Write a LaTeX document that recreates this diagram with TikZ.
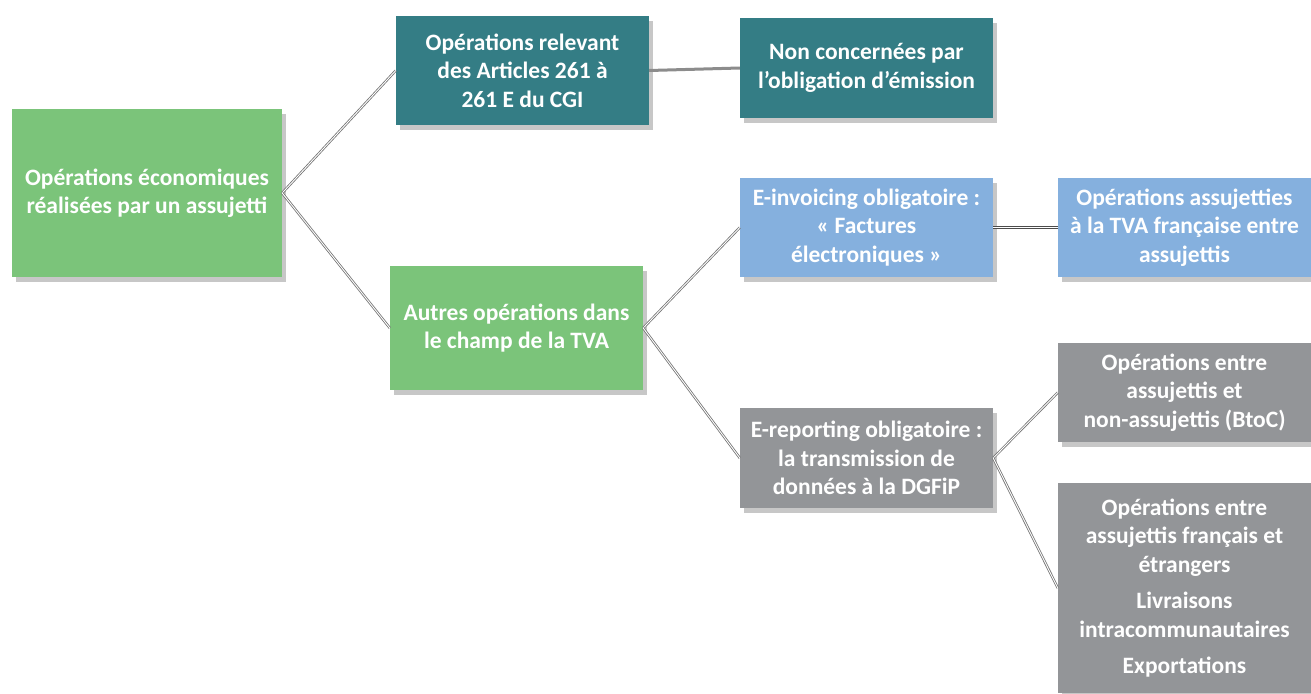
\documentclass[tikz,border=0pt]{standalone}
\usepackage{fontspec}
\setmainfont{Carlito}
\usetikzlibrary{shadows}
\definecolor{cgreen}{RGB}{123,196,122}
\definecolor{cteal}{RGB}{52,125,133}
\definecolor{cblue}{RGB}{133,176,222}
\definecolor{cgray}{RGB}{147,149,152}
\tikzset{
  box/.style={rectangle, inner sep=0pt, align=center, text=white,
    font=\fontsize{23.5}{28.5}\selectfont\bfseries,
    drop shadow={shadow xshift=4pt, shadow yshift=-5pt, fill=black, opacity=0.22}},
  conn/.style={draw=black!55, double=white, double distance=0.9pt, line width=0.8pt},
  connd/.style={draw=black!70, double=white, double distance=1.6pt, line width=1.1pt},
  conns/.style={draw=black!45, line width=3pt},
}
\begin{document}
\begin{tikzpicture}[x=1pt,y=-1pt]
\useasboundingbox (0,0) rectangle (1311,693);
\node[box, fill=cgreen, minimum width=270, minimum height=168] (A) at (147,193)
  {Opérations économiques\\réalisées par un assujetti};
\node[box, fill=cteal, minimum width=253, minimum height=109] (B) at (522.5,70.5)
  {Opérations relevant\\des Articles 261 à\\261 E du CGI};
\node[box, fill=cteal, minimum width=253, minimum height=100] (C) at (866.5,68)
  {Non concernées par\\l’obligation d’émission};
\node[box, fill=cgreen, minimum width=253, minimum height=124] (D) at (516.5,328)
  {Autres opérations dans\\le champ de la TVA};
\node[box, fill=cblue, minimum width=253, minimum height=99] (E) at (866.5,227.5)
  {E-invoicing obligatoire :\\« Factures\\électroniques »};
\node[box, fill=cblue, minimum width=253, minimum height=99] (F) at (1184.5,227.5)
  {Opérations assujetties\\à la TVA française entre\\assujettis};
\node[box, fill=cgray, minimum width=253, minimum height=100] (G) at (866.5,458)
  {E-reporting obligatoire :\\la transmission de\\données à la DGFiP};
\node[box, fill=cgray, minimum width=253, minimum height=99] (H) at (1184.5,392.5)
  {Opérations entre\\assujettis et\\non-assujettis (BtoC)};
\node[box, fill=cgray, minimum width=253, minimum height=210] (I) at (1184.5,588)
  {Opérations entre\\assujettis français et\\étrangers\\[8pt]Livraisons\\intracommunautaires\\[8pt]Exportations};
\draw[conn] (A.east) -- (B.west);
\draw[conn] (A.east) -- (D.west);
\draw[conns] (B.east) -- (C.west);
\draw[conn] (D.east) -- (E.west);
\draw[conn] (D.east) -- (G.west);
\draw[connd] (E.east) -- (F.west);
\draw[conn] (G.east) -- (H.west);
\draw[conn] (G.east) -- (I.west);
\end{tikzpicture}
\end{document}
